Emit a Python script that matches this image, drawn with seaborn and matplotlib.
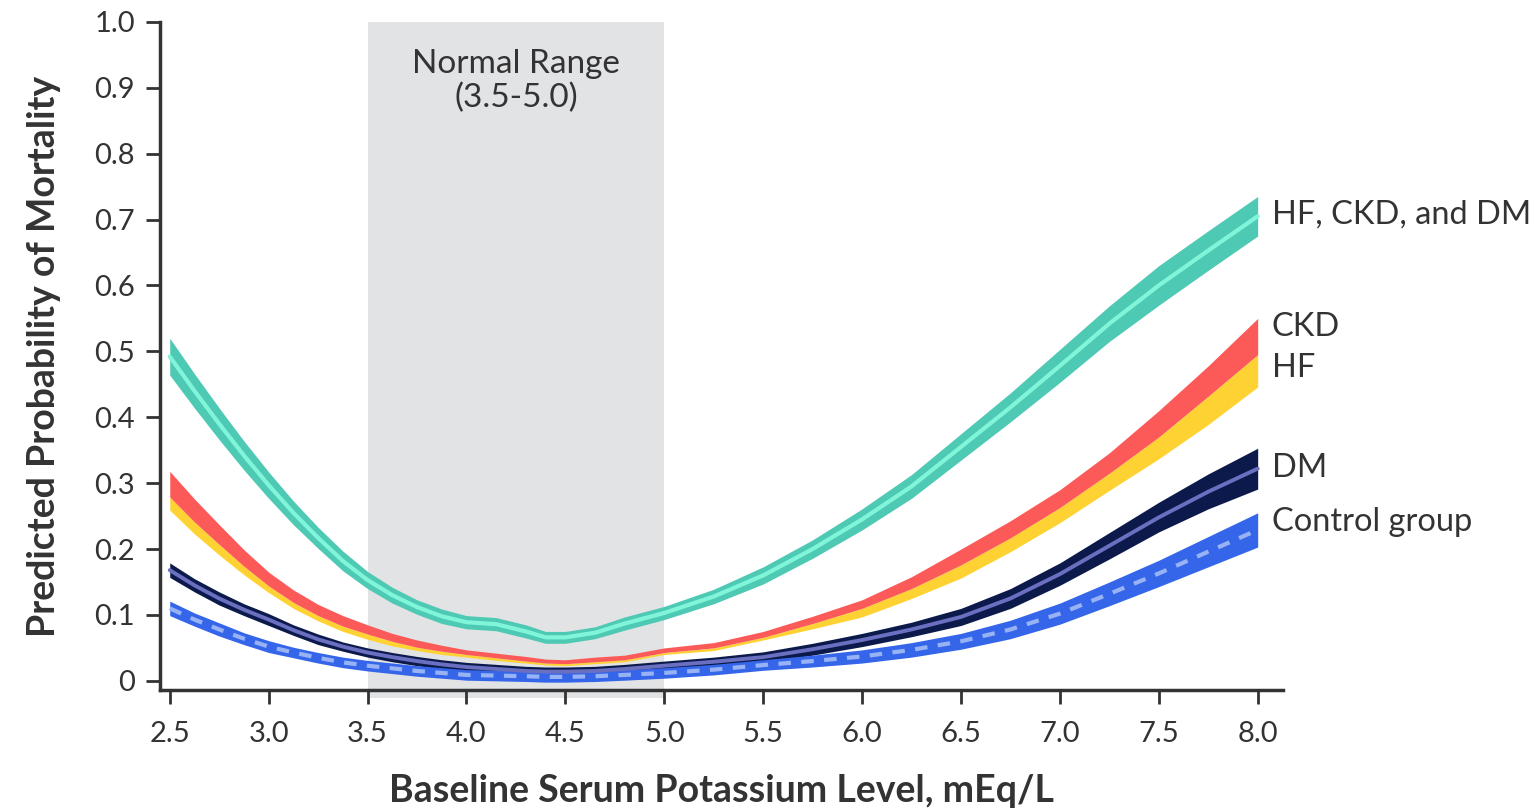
import numpy as np
import pandas as pd
import matplotlib.pyplot as plt
import seaborn as sns

potassium = [2.5, 2.625, 2.75, 2.875, 3.0, 3.125, 3.25, 3.375, 3.5, 3.625, 3.75, 3.875,
             4.0, 4.15, 4.3, 4.4, 4.5, 4.65, 4.8, 5.0, 5.25, 5.5, 5.75, 6.0, 6.25, 6.5,
             6.75, 7.0, 7.25, 7.5, 7.75, 8.0]

# HF, CKD, and DM
all3_mid = [0.492, 0.44, 0.39, 0.342, 0.297, 0.255, 0.217, 0.182, 0.153, 0.13, 0.112, 0.098,
            0.089, 0.086, 0.075, 0.066, 0.066, 0.073, 0.087, 0.103, 0.128, 0.16, 0.2, 0.245,
            0.295, 0.355, 0.415, 0.478, 0.542, 0.6, 0.653, 0.705]
all3_lo = [0.464, 0.414, 0.366, 0.320, 0.277, 0.237, 0.201, 0.167, 0.140, 0.118, 0.101, 0.087,
           0.079, 0.076, 0.065, 0.057, 0.057, 0.064, 0.077, 0.093, 0.117, 0.147, 0.186, 0.229,
           0.277, 0.335, 0.393, 0.453, 0.515, 0.570, 0.623, 0.675]
all3_hi = [0.520, 0.466, 0.414, 0.364, 0.317, 0.273, 0.233, 0.197, 0.166, 0.142, 0.123, 0.109,
           0.099, 0.096, 0.085, 0.075, 0.075, 0.082, 0.097, 0.113, 0.139, 0.173, 0.214, 0.261,
           0.313, 0.375, 0.437, 0.503, 0.569, 0.630, 0.683, 0.735]

# CKD
ckd_lo = [0.279, 0.241, 0.207, 0.174, 0.144, 0.119, 0.099, 0.083, 0.071, 0.060, 0.051, 0.045,
          0.040, 0.035, 0.030, 0.027, 0.026, 0.029, 0.032, 0.043, 0.050, 0.066, 0.087, 0.110,
          0.140, 0.176, 0.217, 0.263, 0.315, 0.370, 0.432, 0.495]
ckd_hi = [0.318, 0.276, 0.237, 0.199, 0.165, 0.138, 0.116, 0.099, 0.085, 0.072, 0.062, 0.054,
          0.047, 0.042, 0.037, 0.033, 0.032, 0.036, 0.039, 0.050, 0.058, 0.075, 0.098, 0.123,
          0.158, 0.200, 0.243, 0.290, 0.346, 0.410, 0.478, 0.550]

# HF (its upper edge meets the CKD band)
hf_lo = [0.259, 0.223, 0.191, 0.161, 0.134, 0.110, 0.091, 0.075, 0.063, 0.053, 0.046, 0.040,
         0.036, 0.031, 0.027, 0.024, 0.023, 0.026, 0.029, 0.040, 0.046, 0.062, 0.079, 0.097,
         0.125, 0.156, 0.196, 0.240, 0.289, 0.337, 0.389, 0.446]
hf_hi = ckd_lo

# DM
dm_mid = [0.168, 0.145, 0.125, 0.108, 0.093, 0.077, 0.063, 0.052, 0.043, 0.036, 0.030, 0.025,
          0.021, 0.018, 0.015, 0.014, 0.014, 0.015, 0.018, 0.023, 0.029, 0.036, 0.048, 0.062,
          0.078, 0.097, 0.125, 0.162, 0.205, 0.248, 0.287, 0.322]
dm_lo = [0.157, 0.135, 0.115, 0.099, 0.084, 0.069, 0.055, 0.045, 0.036, 0.029, 0.023, 0.018,
         0.014, 0.011, 0.008, 0.007, 0.007, 0.008, 0.011, 0.016, 0.022, 0.028, 0.039, 0.052,
         0.067, 0.084, 0.110, 0.145, 0.185, 0.226, 0.261, 0.291]
dm_hi = [0.179, 0.155, 0.135, 0.117, 0.102, 0.085, 0.071, 0.059, 0.050, 0.043, 0.037, 0.032,
         0.028, 0.025, 0.022, 0.021, 0.021, 0.022, 0.025, 0.030, 0.036, 0.044, 0.057, 0.072,
         0.089, 0.110, 0.140, 0.179, 0.225, 0.271, 0.314, 0.353]

# Control group
ctrl_mid = [0.11, 0.093, 0.078, 0.064, 0.052, 0.043, 0.035, 0.028, 0.023, 0.019, 0.015, 0.012,
            0.009, 0.008, 0.007, 0.006, 0.006, 0.007, 0.009, 0.012, 0.017, 0.024, 0.030, 0.037,
            0.047, 0.06, 0.078, 0.102, 0.132, 0.163, 0.196, 0.229]
ctrl_lo = [0.099, 0.083, 0.068, 0.055, 0.043, 0.035, 0.027, 0.020, 0.015, 0.011, 0.007, 0.004,
           0.001, 0.000, -0.001, -0.002, -0.002, -0.001, 0.001, 0.004, 0.009, 0.016, 0.021, 0.027,
           0.036, 0.048, 0.064, 0.086, 0.114, 0.143, 0.173, 0.203]
ctrl_hi = [0.121, 0.103, 0.088, 0.073, 0.061, 0.051, 0.043, 0.036, 0.031, 0.027, 0.023, 0.020,
           0.017, 0.016, 0.015, 0.014, 0.014, 0.015, 0.017, 0.020, 0.025, 0.032, 0.039, 0.047,
           0.058, 0.072, 0.092, 0.118, 0.150, 0.183, 0.219, 0.255]

x_ticks = [2.5, 3.0, 3.5, 4.0, 4.5, 5.0, 5.5, 6.0, 6.5, 7.0, 7.5, 8.0]
y_ticks = [0, 0.1, 0.2, 0.3, 0.4, 0.5, 0.6, 0.7, 0.8, 0.9, 1.0]
y_tick_labels = ["0", "0.1", "0.2", "0.3", "0.4", "0.5", "0.6", "0.7", "0.8", "0.9", "1.0"]

labels = ["HF, CKD, and DM", "CKD", "HF", "DM", "Control group"]
label_y = [0.707, 0.537, 0.475, 0.323, 0.241]

sns.set_style("ticks")
plt.rcParams["font.family"] = ["Lato", "DejaVu Sans"]
ink = "#333333"

fig = plt.figure(figsize=(15.37, 8.09), dpi=100)
ax = fig.add_axes([0.104, 0.147, 0.731, 0.826])

# normal range shading
ax.axvspan(3.5, 5.0, ymin=-0.012, ymax=1, color="#e2e3e5", lw=0, zorder=0, clip_on=False)
ax.text(4.25, 0.91, "Normal Range\n(3.5-5.0)", ha="center", va="center",
        fontsize=24, color=ink, linespacing=1.15)

n = len(potassium)
df = pd.DataFrame({
    "potassium": potassium * 3,
    "prob": all3_mid + dm_mid + ctrl_mid,
    "group": ["all3"] * n + ["dm"] * n + ["ctrl"] * n,
})

# confidence bands
ax.fill_between(potassium, all3_lo, all3_hi, color="#4ec9b4", lw=0, zorder=2)
ax.fill_between(potassium, hf_lo, hf_hi, color="#ffd233", lw=0, zorder=2)
ax.fill_between(potassium, ckd_lo, ckd_hi, color="#fc5a58", lw=0, zorder=3)
ax.fill_between(potassium, dm_lo, dm_hi, color="#0b1a4b", lw=0, zorder=2)
ax.fill_between(potassium, ctrl_lo, ctrl_hi, color="#3566ea", lw=0, zorder=2)

# center lines
sns.lineplot(data=df[df.group == "all3"], x="potassium", y="prob", color="#80f5d9",
             lw=3, ax=ax, zorder=4)
sns.lineplot(data=df[df.group == "dm"], x="potassium", y="prob", color="#6a6fc0",
             lw=2.8, ax=ax, zorder=4)
sns.lineplot(data=df[df.group == "ctrl"], x="potassium", y="prob", color="#98b2f6",
             lw=3, ax=ax, zorder=4, linestyle=(0, (3, 2.5)))

for lab, yy in zip(labels, label_y):
    ax.text(8.072, yy, lab, ha="left", va="center", fontsize=23.5, color=ink, clip_on=False)

ax.set_xlim(2.45, 8.13)
ax.set_ylim(-0.014, 1.0)
ax.set_xticks(x_ticks)
ax.set_xticklabels([f"{t:.1f}" for t in x_ticks])
ax.set_yticks(y_ticks)
ax.set_yticklabels(y_tick_labels)

sns.despine(ax=ax)
for side in ["left", "bottom"]:
    ax.spines[side].set_linewidth(2.5)
    ax.spines[side].set_color(ink)
ax.tick_params(axis="both", direction="out", length=10, width=2, color=ink,
               labelsize=21, labelcolor=ink)
ax.tick_params(axis="x", pad=12)
ax.tick_params(axis="y", pad=8)

ax.set_xlabel("Baseline Serum Potassium Level, mEq/L", fontsize=27, fontweight="bold",
              color=ink, labelpad=20)
ax.set_ylabel("Predicted Probability of Mortality", fontsize=27, fontweight="bold",
              color=ink, labelpad=24)

fig.savefig("out.png", dpi=100)
